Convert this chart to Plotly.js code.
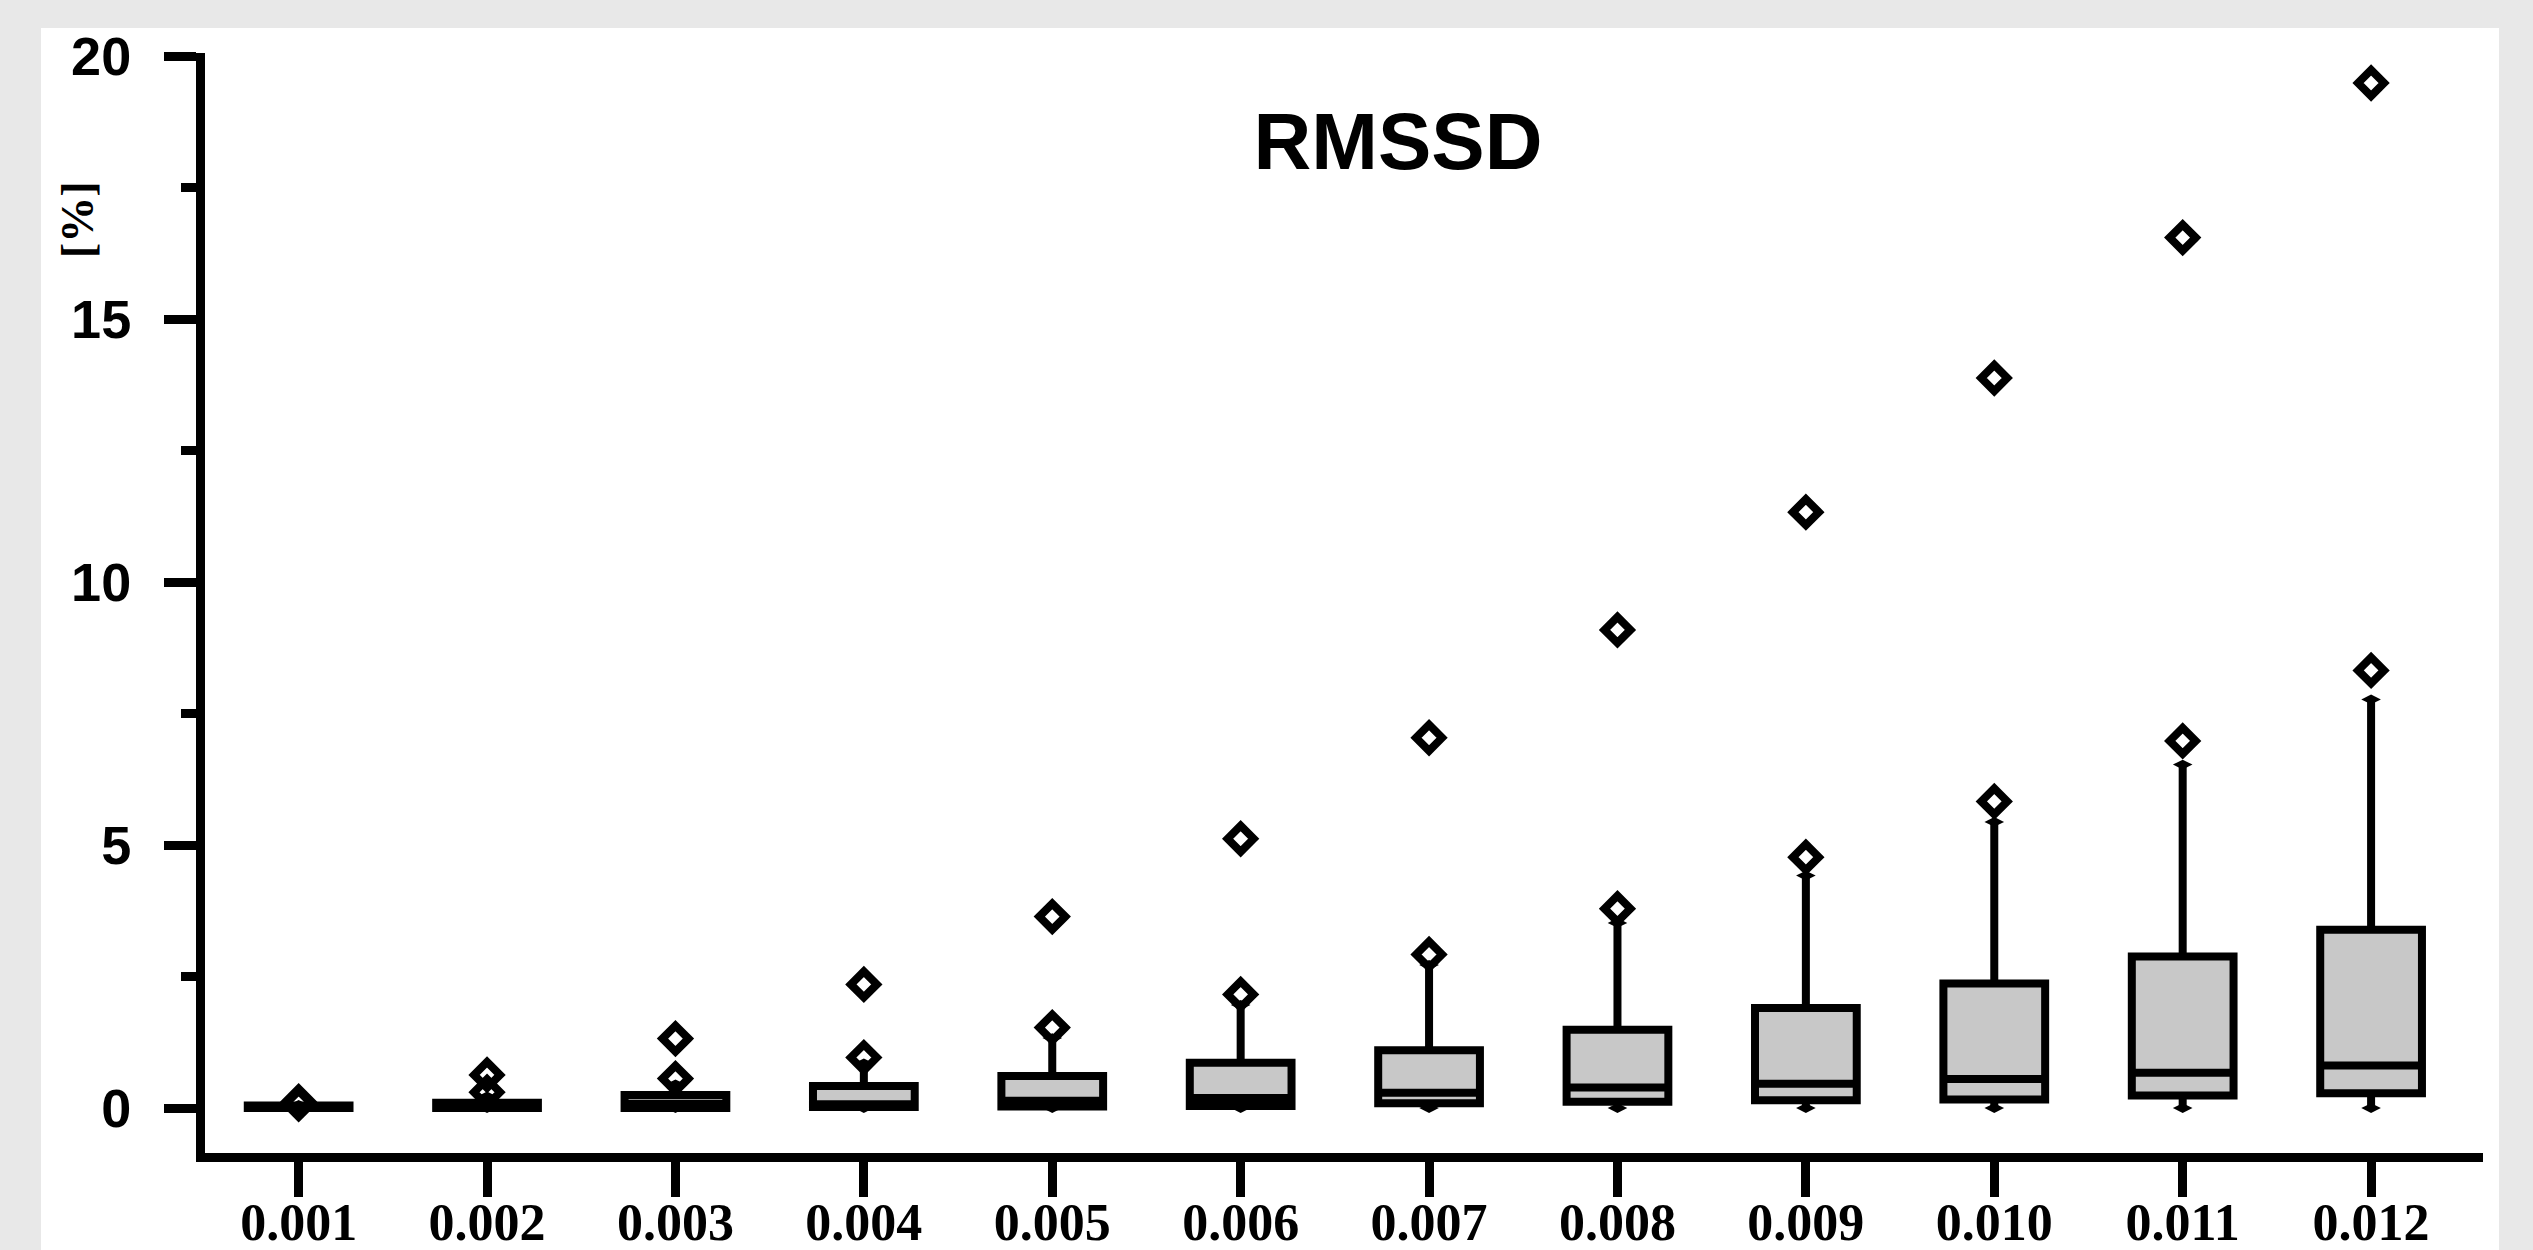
<!DOCTYPE html>
<html>
<head>
<meta charset="utf-8">
<script src="https://cdn.plot.ly/plotly-3.0.1.min.js"></script>
<style>
  html, body { margin:0; padding:0; background:#e8e8e8; width:2533px; height:1250px; overflow:hidden; }
  #sheet { position:absolute; left:41px; top:28px; width:2458px; height:1222px; background:#ffffff; }
  #chart { position:absolute; left:0; top:0; width:2533px; height:1250px; }
</style>
</head>
<body>
<div id="sheet"></div>
<div id="chart"></div>
<script>
// Categories (x tick labels)
const categories = ['0.001','0.002','0.003','0.004','0.005','0.006','0.007','0.008','0.009','0.010','0.011','0.012'];
// Box statistics (values in %)
const lowerWhisker = [0, 0, 0, 0, 0, 0, 0, 0, 0, 0, 0, 0];
const q1Values     = [0.00, 0.00, 0.00, 0.02, 0.03, 0.04, 0.09, 0.12, 0.15, 0.16, 0.24, 0.28];
const medianValues = [0.02, 0.04, 0.08, 0.07, 0.14, 0.19, 0.29, 0.39, 0.46, 0.55, 0.67, 0.81];
const q3Values     = [0.05, 0.10, 0.25, 0.42, 0.61, 0.86, 1.10, 1.49, 1.90, 2.37, 2.88, 3.39];
const upperWhisker = [0.06, 0.22, 0.45, 0.85, 1.33, 1.96, 2.72, 3.52, 4.42, 5.44, 6.53, 7.77];
// Outlier markers (open diamonds)
const nearOutliers = [0.08, 0.30, 0.56, 0.96, 1.53, 2.16, 2.92, 3.79, 4.77, 5.83, 6.98, 8.32];
const maxOutliers  = [0.12, 0.63, 1.32, 2.35, 3.64, 5.12, 7.04, 9.09, 11.33, 13.88, 16.55, 19.49];
const yTickValues = [0, 5, 10, 15, 20];

const boxTrace = {
  type: 'box',
  x: categories,
  q1: q1Values,
  median: medianValues,
  q3: q3Values,
  lowerfence: lowerWhisker,
  upperfence: upperWhisker,
  boxpoints: false,
  width: 0.54,
  whiskerwidth: 0,
  fillcolor: '#c8c8c8',
  line: { color: '#000000', width: 8 },
  showlegend: false,
  hoverinfo: 'skip'
};

const capTrace = {
  type: 'scatter',
  mode: 'markers',
  x: categories.concat(categories),
  y: upperWhisker.concat(lowerWhisker),
  marker: { symbol: 'diamond-wide', size: 14, color: '#000000' },
  showlegend: false,
  hoverinfo: 'skip'
};

const outlierTrace = {
  type: 'scatter',
  mode: 'markers',
  x: categories.concat(categories),
  y: nearOutliers.concat(maxOutliers),
  marker: { symbol: 'diamond-open', size: 20, color: '#000000', line: { color: '#000000', width: 8 } },
  showlegend: false,
  hoverinfo: 'skip'
};

const layout = {
  width: 2533,
  height: 1250,
  margin: { l: 205, r: 50, t: 53, b: 97 },
  paper_bgcolor: 'rgba(0,0,0,0)',
  plot_bgcolor: 'rgba(0,0,0,0)',
  showlegend: false,
  title: {
    text: 'RMSSD',
    font: { family: 'Liberation Sans, Arial, sans-serif', size: 80, color: '#000000', weight: 'bold' },
    xref: 'container', yref: 'container',
    x: 0.5519, xanchor: 'center',
    y: 0.8872, yanchor: 'middle'
  },
  xaxis: {
    type: 'category',
    range: [-0.497, 11.594],
    showgrid: false,
    zeroline: false,
    showline: true,
    linecolor: '#000000',
    linewidth: 9,
    ticks: 'outside',
    ticklen: 35,
    tickwidth: 9,
    tickcolor: '#000000',
    ticklabelstandoff: -19,
    tickfont: { family: 'Liberation Serif, Times New Roman, serif', size: 52, color: '#000000', weight: 'bold' },
    fixedrange: true
  },
  yaxis: {
    range: [-0.855, 20.06],
    tickmode: 'array',
    tickvals: yTickValues,
    ticktext: yTickValues.map(String),
    showgrid: false,
    zeroline: false,
    showline: true,
    linecolor: '#000000',
    linewidth: 9,
    ticks: 'outside',
    ticklen: 32,
    tickwidth: 9,
    tickcolor: '#000000',
    ticklabelstandoff: 22,
    tickfont: { family: 'Liberation Sans, Arial, sans-serif', size: 54, color: '#000000', weight: 'bold' },
    minor: { ticks: 'outside', ticklen: 15, tickwidth: 9, tickcolor: '#000000', tickmode: 'array', tickvals: [2.5, 7.5, 12.5, 17.5] },
    fixedrange: true
  },
  annotations: [{
    text: '[%]',
    xref: 'paper', yref: 'y',
    x: -0.0562, y: 16.9,
    xanchor: 'center', yanchor: 'middle',
    textangle: -90,
    showarrow: false,
    font: { family: 'Liberation Serif, Times New Roman, serif', size: 46, color: '#000000', weight: 'bold' }
  }]
};

Plotly.newPlot('chart', [boxTrace, capTrace, outlierTrace], layout, { displayModeBar: false, staticPlot: true });
</script>
</body>
</html>
